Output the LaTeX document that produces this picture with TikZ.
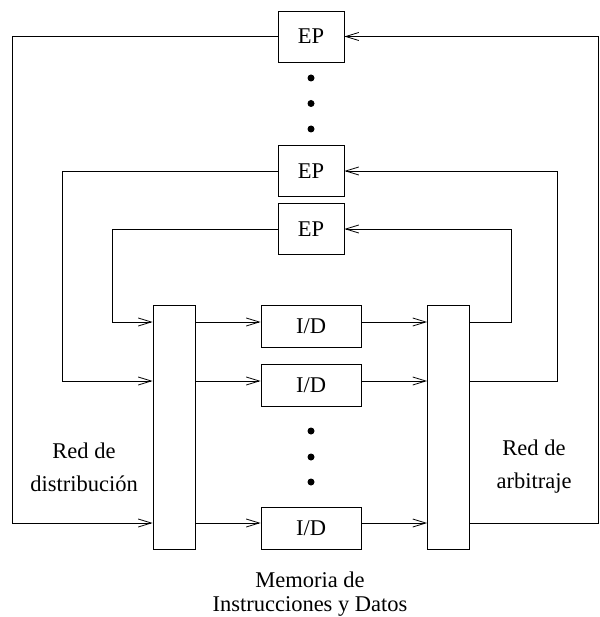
\documentclass[tikz,border=0pt]{standalone}
\usepackage{fontspec}
\setmainfont{Liberation Serif}
\usetikzlibrary{arrows.meta}
\begin{document}
\begin{tikzpicture}[x=1pt,y=-1pt,
  line width=0.8pt,
  box/.style={draw, line width=0.8pt, inner sep=0pt, font=\fontsize{22.5}{27}\selectfont},
  ep/.style={box, minimum width=66pt, minimum height=51pt},
  iod/.style={box, minimum width=100pt, minimum height=42pt},
  net/.style={box, minimum width=42pt, minimum height=244pt},
  arr/.style={-{Straight Barb[length=13pt,width=8pt,line width=0.8pt]}},
  lbl/.style={align=center, inner sep=0pt},
  dot/.style={circle, fill=black, inner sep=0pt, minimum size=7pt}]
\useasboundingbox (0,0) rectangle (599,617);

% EP boxes
\node[ep] (ep1) at (311,36.5) {EP};
\node[ep] (ep2) at (311,171) {EP};
\node[ep] (ep3) at (311,229) {EP};

% networks
\node[net] (L) at (174,427) {};
\node[net] (R) at (448.5,427) {};

% memory modules
\node[iod] (m1) at (311,326) {I/D};
\node[iod] (m2) at (311,385) {I/D};
\node[iod] (m3) at (311,528) {I/D};

% dots
\node[dot] (d1) at (311,78) {};
\node[dot] (d2) at (311,103.5) {};
\node[dot] (d3) at (311,129) {};
\node[dot] (d4) at (311,431) {};
\node[dot] (d5) at (311,457) {};
\node[dot] (d6) at (311,482) {};

% coordinates for loop corners
\coordinate (a1) at (12,36.5);  \coordinate (a2) at (12,523);
\coordinate (b1) at (62,171);   \coordinate (b2) at (62,381);
\coordinate (c1) at (112,229);  \coordinate (c2) at (112,322);
\coordinate (e1) at (598,36.5); \coordinate (e2) at (598,523);
\coordinate (f1) at (557,171);  \coordinate (f2) at (557,381);
\coordinate (g1) at (511,229);  \coordinate (g2) at (511,322);

% distribution loops
\draw[arr] (ep1.west) -- (a1) -- (a2) -- (L.west |- a2);
\draw[arr] (ep2.west) -- (b1) -- (b2) -- (L.west |- b2);
\draw[arr] (ep3.west) -- (c1) -- (c2) -- (L.west |- c2);

% arbitration loops
\draw[arr] (R.east |- e2) -- (e2) -- (e1) -- (ep1.east);
\draw[arr] (R.east |- f2) -- (f2) -- (f1) -- (ep2.east);
\draw[arr] (R.east |- g2) -- (g2) -- (g1) -- (ep3.east);

% network to memory
\draw[arr] (L.east |- c2) -- (m1.west |- c2);
\draw[arr] (L.east |- b2) -- (m2.west |- b2);
\draw[arr] (L.east |- a2) -- (m3.west |- a2);
\draw[arr] (m1.east |- c2) -- (R.west |- c2);
\draw[arr] (m2.east |- b2) -- (R.west |- b2);
\draw[arr] (m3.east |- a2) -- (R.west |- a2);

% labels
\node[lbl, font=\fontsize{22.5}{33}\selectfont] (tl) at (84,467) {Red de\\distribución};
\node[lbl, font=\fontsize{22.5}{33}\selectfont] (tr) at (534,467) {Red de\\arbitraje};
\node[lbl, font=\fontsize{22.5}{24}\selectfont] (tm) at (310,594) {Memoria de\\Instrucciones y Datos};
\end{tikzpicture}
\end{document}
